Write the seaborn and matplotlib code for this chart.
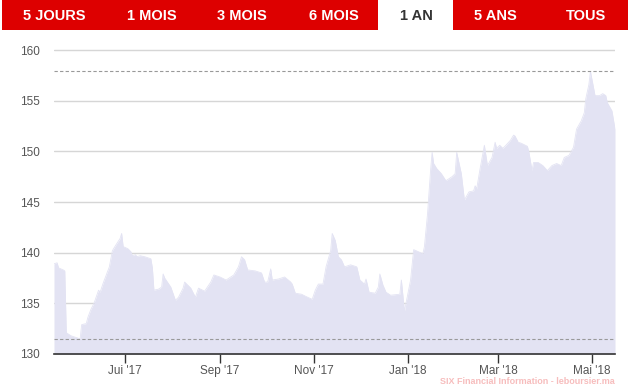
import matplotlib
matplotlib.use("Agg")
import matplotlib.pyplot as plt
import matplotlib.dates as mdates
from matplotlib.patches import Rectangle
import seaborn as sns
import pandas as pd

dates = [
    "2017-05-16", "2017-05-18", "2017-05-19", "2017-05-22", "2017-05-23", "2017-05-24",
    "2017-05-27", "2017-05-31", "2017-06-02", "2017-06-03", "2017-06-06", "2017-06-07",
    "2017-06-09", "2017-06-11", "2017-06-14", "2017-06-15", "2017-06-17", "2017-06-21",
    "2017-06-23", "2017-06-25", "2017-06-28", "2017-06-29", "2017-06-30", "2017-07-03",
    "2017-07-05", "2017-07-06", "2017-07-08", "2017-07-09", "2017-07-11", "2017-07-14",
    "2017-07-18", "2017-07-19", "2017-07-20", "2017-07-23", "2017-07-25", "2017-07-26",
    "2017-07-27", "2017-07-31", "2017-08-03", "2017-08-05", "2017-08-08", "2017-08-09",
    "2017-08-13", "2017-08-16", "2017-08-18", "2017-08-22", "2017-08-26", "2017-08-28",
    "2017-09-01", "2017-09-05", "2017-09-10", "2017-09-13", "2017-09-15", "2017-09-17",
    "2017-09-19", "2017-09-24", "2017-09-28", "2017-09-30", "2017-10-02", "2017-10-04",
    "2017-10-05", "2017-10-09", "2017-10-13", "2017-10-17", "2017-10-18", "2017-10-20",
    "2017-10-24", "2017-10-28", "2017-10-31", "2017-11-02", "2017-11-04", "2017-11-07",
    "2017-11-09", "2017-11-12", "2017-11-13", "2017-11-15", "2017-11-17", "2017-11-19",
    "2017-11-21", "2017-11-25", "2017-11-29", "2017-12-01", "2017-12-04", "2017-12-05",
    "2017-12-07", "2017-12-11", "2017-12-13", "2017-12-14", "2017-12-16", "2017-12-18",
    "2017-12-21", "2017-12-27", "2017-12-28", "2017-12-30", "2017-12-31", "2018-01-03",
    "2018-01-05", "2018-01-08", "2018-01-11", "2018-01-12", "2018-01-14", "2018-01-16",
    "2018-01-17", "2018-01-18", "2018-01-20", "2018-01-23", "2018-01-26", "2018-01-30",
    "2018-02-01", "2018-02-02", "2018-02-03", "2018-02-05", "2018-02-07", "2018-02-10",
    "2018-02-13", "2018-02-14", "2018-02-15", "2018-02-17", "2018-02-20", "2018-02-22",
    "2018-02-25", "2018-02-27", "2018-02-28", "2018-03-02", "2018-03-04", "2018-03-06",
    "2018-03-09", "2018-03-11", "2018-03-12", "2018-03-14", "2018-03-16", "2018-03-20",
    "2018-03-21", "2018-03-23", "2018-03-24", "2018-03-27", "2018-03-30", "2018-04-02",
    "2018-04-05", "2018-04-08", "2018-04-11", "2018-04-13", "2018-04-16", "2018-04-19",
    "2018-04-21", "2018-04-24", "2018-04-26", "2018-04-27", "2018-04-29", "2018-04-30",
    "2018-05-03", "2018-05-06", "2018-05-08", "2018-05-10", "2018-05-11", "2018-05-14",
    "2018-05-16",
]
prices = [
    138.9, 139.0, 138.5, 138.3, 138.2, 132.1,
    131.8, 131.6, 131.5, 132.9, 133.0, 133.6,
    134.4, 135.0, 136.3, 136.1, 137.0, 138.6,
    140.2, 140.7, 141.4, 141.9, 140.6, 140.4,
    140.1, 139.7, 139.8, 139.6, 139.7, 139.6,
    139.4, 138.5, 136.3, 136.4, 136.6, 137.9,
    137.5, 136.6, 135.3, 135.6, 136.5, 137.1,
    136.5, 135.6, 136.5, 136.2, 137.1, 137.8,
    137.6, 137.3, 137.8, 138.6, 139.6, 139.3,
    138.3, 138.2, 138.0, 137.1, 137.1, 138.4,
    137.3, 137.4, 137.6, 137.1, 136.9, 136.0,
    135.9, 135.6, 135.4, 136.3, 136.9, 136.9,
    138.6, 140.2, 141.9, 141.2, 139.6, 139.3,
    138.6, 138.8, 138.6, 137.3, 136.9, 137.4,
    136.1, 136.0, 136.6, 137.9, 136.8, 136.1,
    135.8, 135.9, 137.3, 134.2, 135.0, 137.3,
    140.3, 140.1, 139.9, 140.6, 143.8, 148.1,
    149.9, 148.8, 148.3, 147.8, 147.1, 147.5,
    147.8, 149.9, 149.2, 147.8, 145.2, 146.0,
    146.1, 146.6, 146.3, 148.1, 150.6, 148.6,
    149.4, 150.9, 150.3, 150.6, 150.3, 150.6,
    151.1, 151.6, 151.5, 150.9, 150.8, 150.5,
    149.9, 148.1, 148.9, 148.9, 148.6, 148.1,
    148.6, 148.8, 148.6, 149.4, 149.6, 150.4,
    152.2, 153.0, 153.8, 155.2, 156.6, 157.9,
    155.5, 155.5, 155.7, 155.5, 154.8, 154.0,
    152.2,
]
period_high = 157.95
period_low = 131.5

tick_dates = ["2017-07-01", "2017-09-01", "2017-11-01", "2018-01-01", "2018-03-01", "2018-05-01"]
tick_labels = ["Jui '17", "Sep '17", "Nov '17", "Jan '18", "Mar '18", "Mai '18"]
y_ticks = [130, 135, 140, 145, 150, 155, 160]
tabs = ["5 JOURS", "1 MOIS", "3 MOIS", "6 MOIS", "1 AN", "5 ANS", "TOUS"]
tab_centers = [54, 152, 242, 334, 416, 495, 586]
active_tab = "1 AN"

sns.set_theme(style="white")
plt.rcParams['font.family'] = ['Liberation Sans', 'DejaVu Sans']

df = pd.DataFrame({"date": pd.to_datetime(dates), "price": prices})

W, H = 628, 390
fig = plt.figure(figsize=(W / 100, H / 100), dpi=100)
fig.patch.set_facecolor("white")

# tab bar
red = "#DD0000"
fig.patches.append(Rectangle((2 / W, 1 - 30 / H), (W - 2) / W, 30 / H,
                             transform=fig.transFigure, facecolor=red, edgecolor="none", zorder=0))
fig.patches.append(Rectangle((378 / W, 1 - 30 / H), (453 - 378) / W, 30 / H,
                             transform=fig.transFigure, facecolor="white", edgecolor="none", zorder=1))
for lab, cx in zip(tabs, tab_centers):
    col = "#333333" if lab == active_tab else "white"
    fig.text(cx / W, 1 - 16 / H, lab, ha="center", va="center", color=col,
             fontsize=10.5, fontweight="bold", zorder=2)

left, right, bottom, top = 54, 615, 354, 38.9
ax = fig.add_axes([left / W, 1 - bottom / H, (right - left) / W, (bottom - top) / H])

fill_col = "#E3E3F3"
ax.fill_between(df["date"], df["price"], 130, color=fill_col, linewidth=0, zorder=2)
sns.lineplot(data=df, x="date", y="price", ax=ax, color=fill_col, linewidth=0.6, zorder=2)

ax.set_xlim(df["date"].iloc[0], df["date"].iloc[-1])
ax.set_ylim(130, 161.1)

for yv in y_ticks[1:]:
    ax.axhline(yv, color="#D6D6D6", linewidth=1.0, zorder=1)
ax.axhline(period_high, color="#999999", linewidth=0.8, linestyle=(0, (3, 2)), zorder=3)
ax.axhline(period_low, color="#999999", linewidth=0.8, linestyle=(0, (3, 2)), zorder=3)

ax.set_yticks(y_ticks)
ax.set_yticklabels([str(v) for v in y_ticks])
ax.set_xticks(pd.to_datetime(tick_dates))
ax.set_xticklabels(tick_labels)
ax.tick_params(axis="y", length=0, pad=10, labelsize=8.5, labelcolor="#555555")
ax.tick_params(axis="x", length=6.5, width=1, color="#333333", direction="out",
               pad=1.5, labelsize=8.5, labelcolor="#555555")
ax.xaxis.set_ticks_position("bottom")
ax.set_xlabel("")
ax.set_ylabel("")
for s in ["left", "right", "top"]:
    ax.spines[s].set_visible(False)
ax.spines["bottom"].set_color("#333333")
ax.spines["bottom"].set_linewidth(1.2)
ax.spines["bottom"].set_zorder(4)
ax.set_facecolor("white")

fig.text(615 / W, 1 - 382 / H, "SIX Financial Information - leboursier.ma",
         ha="right", va="center", color="#F7BDBD", fontsize=6.5, fontweight="bold",
         family=["Liberation Sans Narrow", "Liberation Sans"])

fig.savefig("out.png", dpi=100, facecolor="white")
